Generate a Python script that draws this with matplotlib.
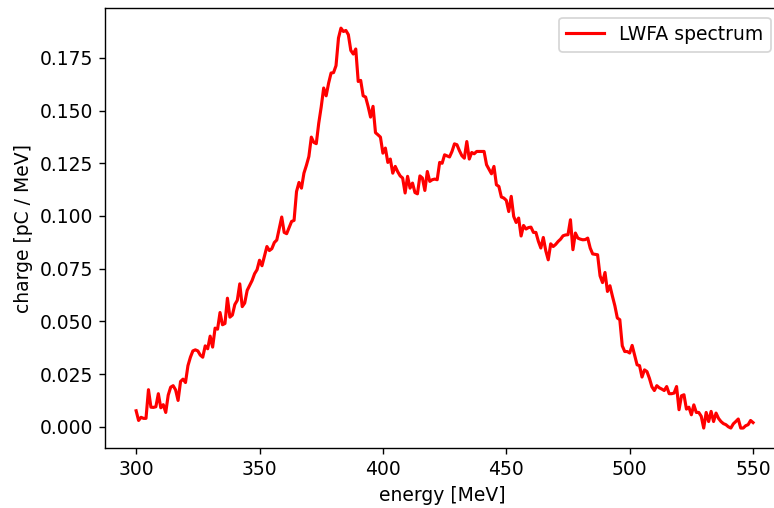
import numpy as np
import matplotlib
matplotlib.use("Agg")
import matplotlib.pyplot as plt

# electron energy bins, 1 MeV wide
energy = np.arange(300, 551, 1)

# charge per energy bin [pC / MeV]
charge = [
    0.0076, 0.0030, 0.0045, 0.0040, 0.0040, 0.0176, 0.0093, 0.0092, 0.0095, 0.0157,  # 300-309
    0.0090, 0.0105, 0.0068, 0.0150, 0.0188, 0.0195, 0.0175, 0.0125, 0.0215, 0.0226,  # 310-319
    0.0210, 0.0290, 0.0330, 0.0360, 0.0365, 0.0360, 0.0340, 0.0330, 0.0384, 0.0370,  # 320-329
    0.0430, 0.0378, 0.0468, 0.0463, 0.0542, 0.0484, 0.0490, 0.0610, 0.0520, 0.0530,  # 330-339
    0.0580, 0.0600, 0.0678, 0.0570, 0.0587, 0.0647, 0.0670, 0.0694, 0.0726, 0.0745,  # 340-349
    0.0790, 0.0764, 0.0810, 0.0855, 0.0836, 0.0845, 0.0874, 0.0886, 0.0940, 0.0995,  # 350-359
    0.0922, 0.0916, 0.0945, 0.0974, 0.0979, 0.1116, 0.1159, 0.1132, 0.1203, 0.1240,  # 360-369
    0.1282, 0.1374, 0.1349, 0.1343, 0.1440, 0.1517, 0.1607, 0.1570, 0.1630, 0.1678,  # 370-379
    0.1680, 0.1713, 0.1844, 0.1891, 0.1875, 0.1880, 0.1860, 0.1785, 0.1768, 0.1792,  # 380-389
    0.1638, 0.1643, 0.1570, 0.1564, 0.1520, 0.1469, 0.1520, 0.1395, 0.1385, 0.1374,  # 390-399
    0.1298, 0.1322, 0.1254, 0.1270, 0.1203, 0.1235, 0.1210, 0.1190, 0.1180, 0.1109,  # 400-409
    0.1188, 0.1132, 0.1156, 0.1111, 0.1105, 0.1190, 0.1180, 0.1121, 0.1211, 0.1164,  # 410-419
    0.1172, 0.1175, 0.1172, 0.1254, 0.1250, 0.1290, 0.1285, 0.1280, 0.1306, 0.1342,  # 420-429
    0.1338, 0.1310, 0.1286, 0.1274, 0.1353, 0.1270, 0.1301, 0.1295, 0.1306, 0.1306,  # 430-439
    0.1306, 0.1306, 0.1243, 0.1222, 0.1200, 0.1235, 0.1148, 0.1140, 0.1090, 0.1085,  # 440-449
    0.1074, 0.1021, 0.1093, 0.0998, 0.0969, 0.0990, 0.0905, 0.0955, 0.0938, 0.0945,  # 450-459
    0.0947, 0.0922, 0.0922, 0.0880, 0.0848, 0.0898, 0.0835, 0.0792, 0.0868, 0.0855,  # 460-469
    0.0865, 0.0879, 0.0890, 0.0906, 0.0910, 0.0911, 0.0982, 0.0840, 0.0919, 0.0895,  # 470-479
    0.0890, 0.0887, 0.0888, 0.0895, 0.0848, 0.0820, 0.0818, 0.0816, 0.0716, 0.0684,  # 480-489
    0.0732, 0.0642, 0.0669, 0.0620, 0.0574, 0.0516, 0.0508, 0.0384, 0.0357, 0.0357,  # 490-499
    0.0350, 0.0386, 0.0340, 0.0294, 0.0290, 0.0236, 0.0270, 0.0262, 0.0230, 0.0190,  # 500-509
    0.0172, 0.0195, 0.0185, 0.0179, 0.0172, 0.0191, 0.0157, 0.0157, 0.0160, 0.0191,  # 510-519
    0.0081, 0.0147, 0.0152, 0.0084, 0.0093, 0.0057, 0.0104, 0.0068, 0.0068, 0.0050,  # 520-529
    -0.0006, 0.0068, 0.0025, 0.0073, 0.0025, 0.0065, 0.0040, 0.0025, 0.0015, 0.0010,  # 530-539
    0.0000, -0.0006, 0.0014, 0.0025, 0.0037, -0.0006, -0.0006, 0.0005, 0.0010, 0.0030,  # 540-549
    0.0020,  # 550
]

plt.rcParams["font.size"] = 10.8

fig = plt.figure(figsize=(6.192, 4.064), dpi=125)
# the frame runs just past the right edge of the canvas
ax = fig.add_axes([0.1357, 0.118, 0.872, 0.866])

ax.plot(energy, charge, color="red", linewidth=1.8, label="LWFA spectrum")
ax.set_xlim(287.4, 560.9)

ax.set_xlabel("energy [MeV]")
ax.set_ylabel("charge [pC / MeV]")
ax.legend(loc="upper right")

fig.savefig("out.png", dpi=125)
